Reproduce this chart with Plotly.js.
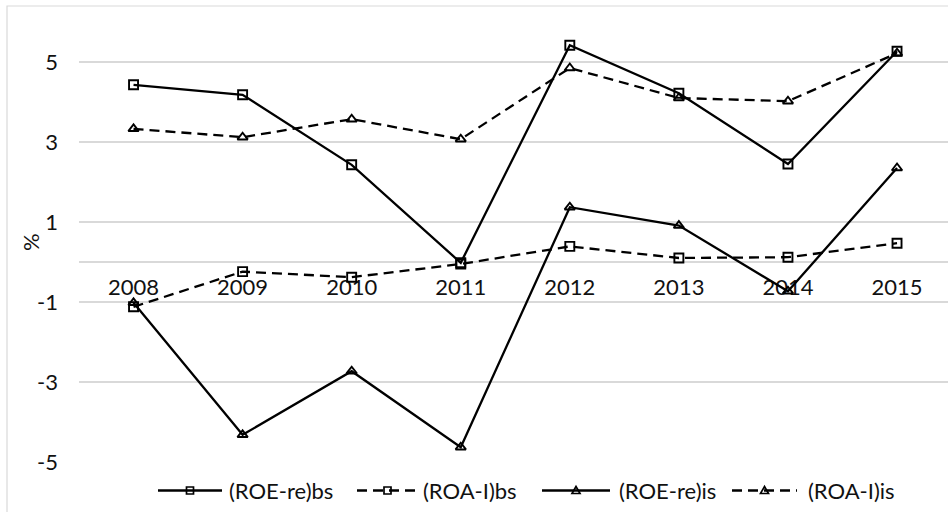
<!DOCTYPE html>
<html>
<head>
<meta charset="utf-8">
<script src="https://cdn.plot.ly/plotly-3.0.1.min.js"></script>
<style>
html, body { margin: 0; padding: 0; background: #fff; }
#chart { width: 948px; height: 512px; }
</style>
</head>
<body>
<div id="chart"></div>
<script>
// ---- data ----
const years = ['2008', '2009', '2010', '2011', '2012', '2013', '2014', '2015'];
const roeReBs = [4.43, 4.18, 2.43, -0.02, 5.42, 4.22, 2.45, 5.27];
const roaIBs  = [-1.12, -0.24, -0.38, -0.05, 0.39, 0.10, 0.12, 0.47];
const roeReIs = [-1.02, -4.32, -2.73, -4.63, 1.37, 0.91, -0.73, 2.35];
const roaIIs  = [3.33, 3.12, 3.57, 3.07, 4.85, 4.10, 4.02, 5.22];
const seriesNames = ['(ROE-re)bs', '(ROA-I)bs', '(ROE-re)is', '(ROA-I)is'];
const yTicks = [-5, -3, -1, 1, 3, 5];
const yTitle = '%';

// ---- styles ----
const FONT = 'Lato, "Open Sans", sans-serif';
const TXT = '#111';
const GRID = '#d9d9d9';
const DASH = '10px,6px';
const W = 948, H = 512;
const M = { l: 79, r: 0, t: 22, b: 50 };
const PW = W - M.l - M.r, PH = H - M.t - M.b;
const px = x => (x - M.l) / PW;
const py = y => (H - M.b - y) / PH;

const styles = [
  { dash: 'solid', symbol: 'square-open' },
  { dash: DASH, symbol: 'square-open' },
  { dash: 'solid', symbol: 'triangle-up-open' },
  { dash: DASH, symbol: 'triangle-up-open' }
];
const values = [roeReBs, roaIBs, roeReIs, roaIIs];

const traces = values.map((v, i) => ({
  type: 'scatter',
  mode: 'lines+markers',
  x: years,
  y: v,
  name: seriesNames[i],
  line: { color: '#000', width: 2.3, dash: styles[i].dash },
  marker: { symbol: styles[i].symbol, size: 9, color: '#000', line: { color: '#000', width: 1.9 } },
  showlegend: false,
  hoverinfo: 'x+y+name'
}));

// ---- custom legend (decoration) ----
const legendItems = [
  { x0: 158, x1: 222, tx: 227 },
  { x0: 357, x1: 418, tx: 421 },
  { x0: 542, x1: 610, tx: 617 },
  { x0: 732, x1: 797, tx: 806 }
];
const LY = 490.5;
const shapes = [];
const annotations = [];
legendItems.forEach((it, i) => {
  shapes.push({
    type: 'line', xref: 'paper', yref: 'paper',
    x0: px(it.x0), x1: px(it.x1), y0: py(LY), y1: py(LY),
    line: { color: '#000', width: 2.3, dash: styles[i].dash }
  });
  const cx = px((it.x0 + it.x1) / 2);
  if (styles[i].symbol.startsWith('square')) {
    shapes.push({
      type: 'rect', xref: 'paper', yref: 'paper',
      xsizemode: 'pixel', ysizemode: 'pixel', xanchor: cx, yanchor: py(LY),
      x0: -3.5, x1: 3.5, y0: -3.5, y1: 3.5,
      fillcolor: 'rgba(0,0,0,0)', line: { color: '#000', width: 1.7 }
    });
  } else {
    shapes.push({
      type: 'path', xref: 'paper', yref: 'paper',
      xsizemode: 'pixel', ysizemode: 'pixel', xanchor: cx, yanchor: py(LY),
      path: 'M-4,-3L4,-3L0,4Z',
      fillcolor: 'rgba(0,0,0,0)', line: { color: '#000', width: 1.7 }
    });
  }
  annotations.push({
    xref: 'paper', yref: 'paper', x: px(it.tx), y: py(LY),
    xanchor: 'left', yanchor: 'middle', showarrow: false,
    text: seriesNames[i], font: { family: FONT, size: 22, color: TXT }
  });
});

// y-axis title
annotations.push({
  xref: 'paper', yref: 'paper', x: px(30), y: py(242),
  xanchor: 'center', yanchor: 'middle', showarrow: false, textangle: -90,
  text: yTitle, font: { family: FONT, size: 22, color: TXT }
});

// chart border (top + left)
shapes.push({
  type: 'rect', xref: 'paper', yref: 'paper', layer: 'below',
  x0: px(7), x1: px(960), y0: py(6), y1: py(530),
  line: { color: GRID, width: 1.2 }, fillcolor: 'rgba(0,0,0,0)'
});

const layout = {
  width: W, height: H,
  margin: M,
  paper_bgcolor: '#fff', plot_bgcolor: '#fff',
  font: { family: FONT, size: 21, color: TXT },
  showlegend: false,
  xaxis: {
    type: 'category',
    range: [-0.5, -0.5 + PW / 109.07],
    anchor: 'free', position: 5 / 11,
    showgrid: false, zeroline: false, showline: false,
    ticks: '', ticklabelstandoff: 10,
    layer: 'below traces',
    tickfont: { family: FONT, size: 22, color: TXT },
    fixedrange: true
  },
  yaxis: {
    range: [-5, 6],
    tickvals: yTicks,
    ticktext: yTicks.map(String),
    showgrid: true, gridcolor: GRID, gridwidth: 1.2,
    zeroline: true, zerolinecolor: GRID, zerolinewidth: 1.2,
    showline: false, ticks: '', ticklabelstandoff: 20,
    tickfont: { family: FONT, size: 22, color: TXT },
    automargin: false,
    fixedrange: true
  },
  shapes: shapes,
  annotations: annotations
};

Plotly.newPlot('chart', traces, layout, { displayModeBar: false, staticPlot: true });
</script>
</body>
</html>
